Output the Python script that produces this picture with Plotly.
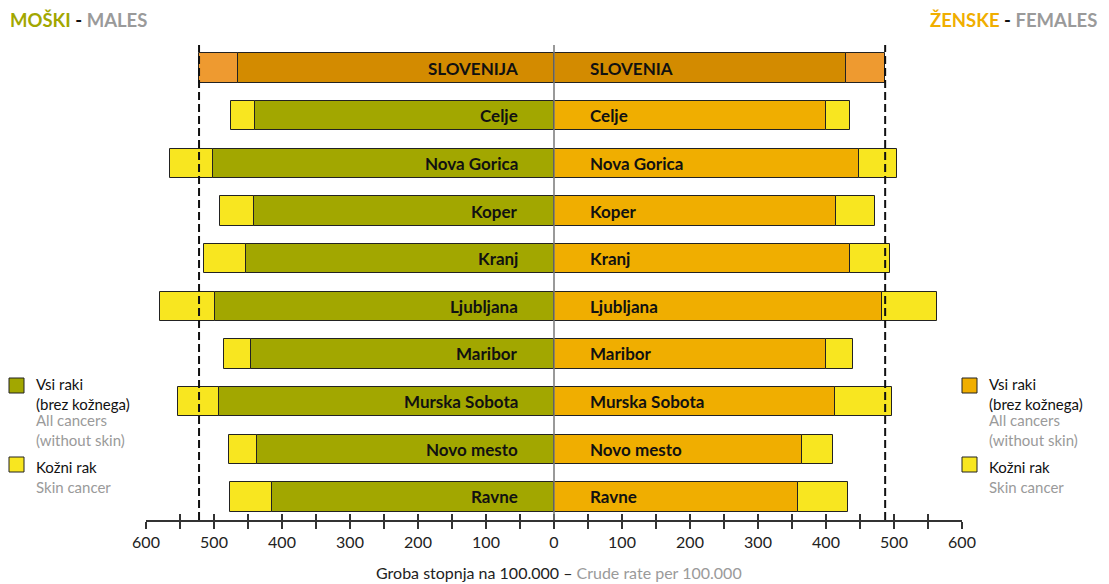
import plotly.graph_objects as go

# ---- data ----
regions = ["SLOVENIJA", "Celje", "Nova Gorica", "Koper", "Kranj", "Ljubljana",
           "Maribor", "Murska Sobota", "Novo mesto", "Ravne"]
labels_female = ["SLOVENIA", "Celje", "Nova Gorica", "Koper", "Kranj", "Ljubljana",
                 "Maribor", "Murska Sobota", "Novo mesto", "Ravne"]
male_all = [465, 439, 502, 441, 453, 499, 445, 492, 437, 415]
male_skin = [57, 36, 62, 50, 61, 81, 41, 61, 41, 62]
female_all = [429, 400, 448, 415, 436, 483, 400, 413, 365, 359]
female_skin = [58, 36, 56, 57, 58, 80, 39, 84, 45, 73]
tick_values = [-600, -500, -400, -300, -200, -100, 0, 100, 200, 300, 400, 500, 600]
tick_labels = ["600", "500", "400", "300", "200", "100", "0", "100", "200", "300", "400", "500", "600"]

# ---- style ----
OFF = 8  # browser default body margin
W, H = 1109 - OFF, 584 - OFF
ML, MR, MT, MB = 146 - OFF, 147, 45 - OFF, 64
PW, PH = W - ML - MR, H - MT - MB
FONT = "Lato"
OLIVE = "#A2A700"
YELLOW = "#F8E620"
ORANGE = "#F0AE00"
SLO_MAIN = "#D38B00"
SLO_SKIN = "#EE9A30"
GRAY = "#9A9A9A"
n = len(regions)
idx = list(range(n))


def px2x(px):
    return (px - OFF - ML) / PW


def py2y(py):
    return 1 - (py - OFF - MT) / PH


male_main_colors = [SLO_MAIN] + [OLIVE] * (n - 1)
male_skin_colors = [SLO_SKIN] + [YELLOW] * (n - 1)
female_main_colors = [SLO_MAIN] + [ORANGE] * (n - 1)
female_skin_colors = [SLO_SKIN] + [YELLOW] * (n - 1)

line = dict(color="#222222", width=1)
BW = 0.61

fig = go.Figure()
fig.add_trace(go.Bar(y=idx, x=[-v for v in male_all], orientation="h", width=BW,
                     marker=dict(color=male_main_colors, line=line), showlegend=False,
                     hoverinfo="skip"))
fig.add_trace(go.Bar(y=idx, x=[-v for v in male_skin], orientation="h", width=BW,
                     marker=dict(color=male_skin_colors, line=line), showlegend=False,
                     hoverinfo="skip"))
fig.add_trace(go.Bar(y=idx, x=female_all, orientation="h", width=BW,
                     marker=dict(color=female_main_colors, line=line), showlegend=False,
                     hoverinfo="skip"))
fig.add_trace(go.Bar(y=idx, x=female_skin, orientation="h", width=BW,
                     marker=dict(color=female_skin_colors, line=line), showlegend=False,
                     hoverinfo="skip"))
# helper trace to activate the secondary x axis (inside ticks)
fig.add_trace(go.Scatter(x=[0], y=[0], xaxis="x2", mode="markers",
                         marker=dict(opacity=0), showlegend=False, hoverinfo="skip"))

annotations = []
for i in range(n):
    annotations.append(dict(x=-50, y=i, xref="x", yref="y", text=f"<b>{regions[i]}</b>",
                            xanchor="right", yanchor="middle", showarrow=False,
                            font=dict(family=FONT, size=17, color="#111111")))
    annotations.append(dict(x=50, y=i, xref="x", yref="y", text=f"<b>{labels_female[i]}</b>",
                            xanchor="left", yanchor="middle", showarrow=False,
                            font=dict(family=FONT, size=17, color="#111111")))

# titles
annotations.append(dict(x=px2x(9), y=py2y(8), xref="paper", yref="paper", xanchor="left",
                        yanchor="top", showarrow=False, borderpad=0,
                        text=f"<b><span style='color:{OLIVE}'>MOŠKI</span> - <span style='color:{GRAY}'>MALES</span></b>",
                        font=dict(family=FONT, size=18.5, color="#111111")))
annotations.append(dict(x=px2x(1098), y=py2y(8), xref="paper", yref="paper", xanchor="right",
                        yanchor="top", showarrow=False, borderpad=0,
                        text=f"<b><span style='color:{ORANGE}'>ŽENSKE</span> - <span style='color:{GRAY}'>FEMALES</span></b>",
                        font=dict(family=FONT, size=18.5, color="#111111")))
# axis title
annotations.append(dict(x=px2x(559), y=py2y(572), xref="paper", yref="paper", xanchor="center",
                        yanchor="middle", showarrow=False,
                        text=f"Groba stopnja na 100.000 – <span style='color:{GRAY}'>Crude rate per 100.000</span>",
                        font=dict(family=FONT, size=16, color="#222222")))

shapes = []
LEG_SIZE = 15


def legend_block(sq_x, txt_x, main_color):
    shapes.append(dict(type="rect", xref="paper", yref="paper",
                       x0=px2x(sq_x), x1=px2x(sq_x + 15), y0=py2y(393), y1=py2y(378),
                       fillcolor=main_color, line=dict(color="#222222", width=1)))
    shapes.append(dict(type="rect", xref="paper", yref="paper",
                       x0=px2x(sq_x), x1=px2x(sq_x + 15), y0=py2y(472), y1=py2y(457),
                       fillcolor=YELLOW, line=dict(color="#222222", width=1)))
    blocks = [("Vsi raki<br>(brez kožnega)", 374, "#111111"),
              ("All cancers<br>(without skin)", 409.5, GRAY),
              (f"Kožni rak<br><span style='color:{GRAY}'>Skin cancer</span>", 457, "#111111")]
    for txt, top, col in blocks:
        annotations.append(dict(x=px2x(txt_x), y=py2y(top), xref="paper", yref="paper",
                                xanchor="left", yanchor="top", align="left", showarrow=False,
                                borderpad=0, text=txt,
                                font=dict(family=FONT, size=LEG_SIZE, color=col)))


legend_block(9, 35, OLIVE)
legend_block(962, 988, ORANGE)

# center line and reference (Slovenia total) dashed lines
shapes.append(dict(type="line", xref="x", yref="paper", x0=0, x1=0, y0=0, y1=1,
                   line=dict(color="#777777", width=1.5)))
slo_m_total = male_all[0] + male_skin[0]
slo_f_total = female_all[0] + female_skin[0]
for xv in (-slo_m_total, slo_f_total):
    shapes.append(dict(type="line", xref="x", yref="paper", x0=xv, x1=xv, y0=0, y1=1,
                       line=dict(color="#111111", width=2, dash="8px,4px"), layer="above"))

axis_common = dict(range=[-600, 600], tickvals=tick_values, showgrid=False, zeroline=False)

fig.update_layout(
    width=W, height=H,
    margin=dict(l=ML, r=MR, t=MT, b=MB),
    paper_bgcolor="white", plot_bgcolor="white",
    barmode="relative", bargap=0,
    font=dict(family=FONT, size=14, color="#222222"),
    xaxis=dict(**axis_common, ticktext=tick_labels, showline=True, linecolor="#333333",
               linewidth=1.5, ticks="outside", ticklen=7, tickwidth=1.5, tickcolor="#333333",
               minor=dict(dtick=50, tick0=0, ticks="outside", ticklen=7, tickwidth=1.5,
                          tickcolor="#333333"),
               tickfont=dict(family=FONT, size=16, color="#222222")),
    xaxis2=dict(**axis_common, overlaying="x", anchor="y", side="bottom", showline=False,
                ticks="inside", ticklen=6, tickwidth=1.5, tickcolor="#333333",
                showticklabels=False,
                minor=dict(dtick=50, tick0=0, ticks="inside", ticklen=6, tickwidth=1.5,
                           tickcolor="#333333")),
    yaxis=dict(range=[n - 1 + 0.483, -0.483], showticklabels=False, showgrid=False,
               zeroline=False, showline=False, ticks=""),
    annotations=annotations,
    shapes=shapes,
)

fig.write_html("out.html")
